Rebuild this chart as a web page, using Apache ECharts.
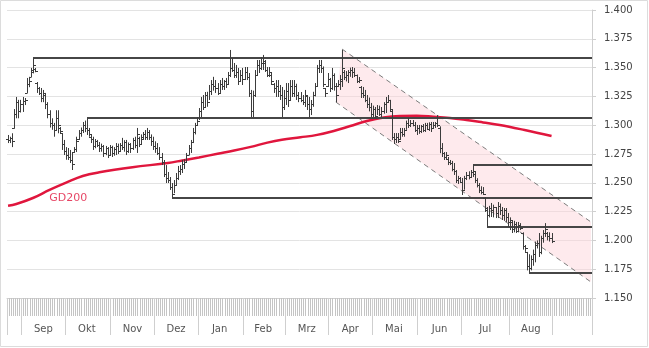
<!DOCTYPE html>
<html>
<head>
<meta charset="utf-8">
<script src="https://cdn.jsdelivr.net/npm/echarts@6/dist/echarts.min.js"></script>
<style>
html,body{margin:0;padding:0;background:#fff;}
#chart{width:649px;height:348px;}
</style>
</head>
<body>
<div id="chart"></div>
<script>
// Month blocks of the daily axis (trading days per month); first and last blocks are partial and unlabeled
const monthLabels = ['', 'Sep', 'Okt', 'Nov', 'Dez', 'Jan', 'Feb', 'Mrz', 'Apr', 'Mai', 'Jun', 'Jul', 'Aug', ''];
const monthDays = [7, 21, 22, 21, 21, 22, 20, 21, 21, 22, 21, 23, 21, 19];

// Y axis ticks
const yMin = 1.15, yMax = 1.40, yStep = 0.025;

// Daily bars: [open, high, low, close]
const ohlc = [
[1.288,1.2915,1.2845,1.287],[1.287,1.290,1.2845,1.289],[1.289,1.293,1.281,1.286],[1.298,1.314,1.297,1.310],
[1.310,1.3245,1.306,1.320],[1.320,1.322,1.306,1.312],[1.312,1.322,1.311,1.318],[1.318,1.3245,1.3115,1.321],
[1.321,1.3236,1.3175,1.322],[1.328,1.341,1.328,1.336],[1.336,1.342,1.333,1.338],[1.342,1.3497,1.3418,1.348],
[1.346,1.358,1.345,1.352],[1.349,1.3497,1.346,1.347],[1.337,1.3375,1.328,1.332],[1.332,1.3332,1.3262,1.328],
[1.328,1.3323,1.320,1.324],[1.324,1.3306,1.320,1.328],[1.326,1.328,1.314,1.318],[1.318,1.320,1.306,1.310],
[1.310,1.313,1.298,1.302],[1.302,1.306,1.296,1.300],[1.300,1.302,1.290,1.296],[1.296,1.313,1.2958,1.306],
[1.306,1.313,1.293,1.300],[1.298,1.2984,1.2932,1.295],[1.293,1.2932,1.2785,1.284],[1.284,1.2872,1.2741,1.278],
[1.278,1.281,1.270,1.274],[1.274,1.2802,1.2698,1.272],[1.272,1.2785,1.2672,1.270],[1.270,1.2759,1.2611,1.266],
[1.277,1.281,1.2759,1.279],[1.279,1.290,1.2767,1.286],[1.288,1.2958,1.2872,1.293],[1.293,1.298,1.290,1.296],
[1.296,1.3028,1.2932,1.300],[1.300,1.304,1.294,1.298],[1.298,1.306,1.2915,1.296],[1.296,1.2976,1.290,1.292],
[1.290,1.2915,1.2845,1.288],[1.288,1.290,1.2785,1.282],[1.282,1.288,1.280,1.286],[1.286,1.2872,1.281,1.283],
[1.283,1.2854,1.2767,1.280],[1.280,1.284,1.277,1.282],[1.282,1.2828,1.2724,1.276],[1.276,1.282,1.274,1.280],
[1.280,1.281,1.2715,1.274],[1.274,1.2828,1.2741,1.281],[1.281,1.2822,1.2724,1.276],[1.276,1.281,1.2735,1.279],
[1.279,1.2845,1.2741,1.282],[1.282,1.284,1.275,1.278],[1.278,1.2845,1.2767,1.283],[1.283,1.289,1.2785,1.281],
[1.281,1.287,1.277,1.285],[1.285,1.2872,1.2741,1.278],[1.278,1.285,1.2759,1.284],[1.284,1.2845,1.2759,1.280],
[1.280,1.289,1.2785,1.287],[1.287,1.290,1.280,1.283],[1.283,1.2976,1.2759,1.292],[1.289,1.290,1.281,1.284],
[1.284,1.292,1.283,1.290],[1.288,1.2941,1.2872,1.292],[1.292,1.2958,1.2872,1.290],[1.290,1.2976,1.2872,1.294],
[1.294,1.2958,1.2872,1.290],[1.290,1.292,1.282,1.286],[1.286,1.290,1.2785,1.282],[1.282,1.286,1.276,1.280],
[1.280,1.2845,1.2741,1.276],[1.276,1.281,1.2698,1.272],[1.272,1.2759,1.2654,1.268],[1.268,1.2698,1.255,1.258],
[1.258,1.2654,1.2498,1.254],[1.254,1.2594,1.2498,1.252],[1.252,1.255,1.2438,1.246],[1.246,1.2498,1.237,1.240],
[1.240,1.2524,1.241,1.248],[1.248,1.2585,1.248,1.254],[1.254,1.2646,1.2524,1.260],[1.260,1.2654,1.2568,1.262],
[1.262,1.2698,1.2585,1.266],[1.266,1.2705,1.262,1.268],[1.268,1.2759,1.268,1.274],[1.274,1.2828,1.2741,1.280],
[1.280,1.2872,1.2759,1.285],[1.285,1.2976,1.2845,1.294],[1.294,1.302,1.292,1.300],[1.300,1.3071,1.300,1.304],
[1.304,1.3149,1.3045,1.312],[1.312,1.3245,1.307,1.320],[1.320,1.3262,1.3132,1.316],[1.316,1.3288,1.3158,1.326],
[1.326,1.329,1.316,1.320],[1.320,1.3349,1.3219,1.330],[1.330,1.3392,1.3262,1.336],[1.336,1.342,1.330,1.334],
[1.334,1.3392,1.328,1.332],[1.332,1.3366,1.3262,1.328],[1.328,1.3392,1.328,1.336],[1.336,1.341,1.3306,1.334],
[1.334,1.3392,1.3306,1.338],[1.338,1.341,1.3323,1.336],[1.336,1.3462,1.3349,1.344],[1.344,1.3653,1.3418,1.350],
[1.350,1.3583,1.3462,1.348],[1.348,1.354,1.341,1.344],[1.344,1.3523,1.341,1.346],[1.346,1.3497,1.3349,1.338],
[1.338,1.3479,1.3375,1.344],[1.344,1.3497,1.3349,1.340],[1.340,1.3505,1.3392,1.346],[1.346,1.3505,1.3392,1.342],
[1.342,1.3453,1.3245,1.328],[1.328,1.3306,1.3071,1.312],[1.312,1.330,1.307,1.326],[1.326,1.3479,1.3245,1.344],
[1.344,1.3566,1.3432,1.352],[1.352,1.3566,1.3453,1.350],[1.350,1.3592,1.3479,1.354],[1.354,1.361,1.3479,1.356],
[1.354,1.3566,1.3462,1.348],[1.348,1.3505,1.3418,1.344],[1.344,1.3505,1.3418,1.346],[1.344,1.3453,1.3349,1.338],
[1.336,1.3366,1.328,1.332],[1.332,1.3392,1.3245,1.334],[1.334,1.3392,1.3245,1.330],[1.330,1.3349,1.3219,1.326],
[1.326,1.3332,1.3071,1.316],[1.316,1.3306,1.3132,1.324],[1.324,1.3366,1.3175,1.330],[1.330,1.3366,1.3158,1.322],
[1.322,1.3392,1.3219,1.334],[1.334,1.3392,1.3245,1.328],[1.328,1.3392,1.3245,1.334],[1.334,1.336,1.3219,1.326],
[1.326,1.3288,1.320,1.324],[1.324,1.3288,1.320,1.322],[1.322,1.3262,1.3175,1.320],[1.320,1.3306,1.3158,1.326],
[1.325,1.3262,1.3132,1.318],[1.318,1.3245,1.3071,1.314],[1.314,1.3219,1.3088,1.318],[1.318,1.329,1.316,1.326],
[1.326,1.3366,1.325,1.334],[1.334,1.3523,1.334,1.350],[1.350,1.3566,1.3453,1.352],[1.352,1.3566,1.3453,1.350],
[1.350,1.351,1.333,1.336],[1.332,1.3323,1.3245,1.328],[1.334,1.3453,1.3332,1.340],[1.340,1.341,1.3288,1.332],
[1.332,1.3497,1.3306,1.344],[1.344,1.345,1.330,1.334],[1.334,1.3366,1.320,1.326],[1.334,1.3392,1.3332,1.336],
[1.336,1.3436,1.3306,1.340],[1.338,1.3653,1.3332,1.350],[1.346,1.3479,1.3392,1.342],[1.342,1.347,1.338,1.344],
[1.344,1.3479,1.3366,1.346],[1.346,1.350,1.342,1.348],[1.348,1.3505,1.341,1.346],[1.346,1.3497,1.3418,1.344],
[1.344,1.344,1.3366,1.338],[1.338,1.3418,1.3366,1.339],[1.333,1.334,1.3236,1.328],[1.328,1.3332,1.3236,1.326],
[1.326,1.3306,1.320,1.322],[1.322,1.3262,1.3149,1.318],[1.318,1.324,1.312,1.316],[1.316,1.3193,1.3071,1.310],
[1.310,1.317,1.307,1.314],[1.314,1.3158,1.3062,1.308],[1.308,1.3175,1.3088,1.314],[1.314,1.317,1.308,1.310],
[1.310,1.3158,1.3071,1.312],[1.312,1.320,1.310,1.318],[1.318,1.3245,1.3106,1.320],[1.320,1.3262,1.3193,1.322],
[1.322,1.322,1.3115,1.314],[1.312,1.3132,1.2872,1.290],[1.290,1.2932,1.2837,1.288],[1.288,1.2932,1.2845,1.290],
[1.290,1.2932,1.2845,1.286],[1.288,1.2976,1.2872,1.294],[1.294,1.2976,1.290,1.292],[1.292,1.2976,1.290,1.296],
[1.296,1.304,1.296,1.302],[1.302,1.3062,1.2976,1.300],[1.300,1.3045,1.2984,1.302],[1.302,1.3045,1.299,1.300],
[1.300,1.3028,1.2941,1.296],[1.296,1.3002,1.2915,1.298],[1.298,1.3002,1.2925,1.295],[1.295,1.3002,1.2932,1.299],
[1.299,1.301,1.294,1.296],[1.296,1.302,1.2941,1.300],[1.300,1.302,1.2958,1.297],[1.297,1.3025,1.295,1.301],
[1.301,1.3028,1.2941,1.298],[1.298,1.3028,1.297,1.300],[1.300,1.3028,1.2976,1.302],[1.302,1.3088,1.2984,1.300],
[1.298,1.299,1.2757,1.280],[1.280,1.2845,1.2724,1.276],[1.276,1.2767,1.2698,1.272],[1.272,1.2767,1.2698,1.274],
[1.271,1.2724,1.2654,1.268],[1.268,1.2698,1.2654,1.267],[1.267,1.269,1.260,1.262],[1.262,1.2672,1.2568,1.260],
[1.260,1.2611,1.2498,1.252],[1.252,1.256,1.249,1.254],[1.254,1.255,1.2498,1.251],[1.251,1.2542,1.2394,1.244],
[1.244,1.256,1.244,1.254],[1.254,1.2594,1.2524,1.257],[1.257,1.260,1.253,1.255],[1.255,1.2611,1.2542,1.259],
[1.259,1.2655,1.255,1.260],[1.258,1.2594,1.2498,1.252],[1.252,1.254,1.246,1.248],[1.248,1.2498,1.2411,1.244],
[1.244,1.247,1.240,1.242],[1.242,1.2463,1.2394,1.240],[1.237,1.2376,1.2247,1.228],[1.226,1.229,1.2116,1.222],
[1.222,1.230,1.220,1.228],[1.228,1.2325,1.2203,1.226],[1.226,1.231,1.220,1.229],[1.229,1.229,1.2194,1.224],
[1.224,1.2333,1.2194,1.230],[1.230,1.232,1.222,1.226],[1.226,1.229,1.2177,1.222],[1.222,1.2281,1.217,1.226],
[1.226,1.2281,1.216,1.220],[1.220,1.2238,1.2116,1.216],[1.216,1.220,1.209,1.218],[1.216,1.2177,1.2064,1.210],
[1.210,1.217,1.207,1.214],[1.214,1.216,1.2064,1.208],[1.208,1.216,1.207,1.213],[1.213,1.215,1.209,1.211],
[1.206,1.207,1.192,1.195],[1.195,1.196,1.190,1.193],[1.190,1.190,1.174,1.178],[1.178,1.188,1.172,1.176],
[1.176,1.187,1.174,1.184],[1.184,1.192,1.178,1.188],[1.188,1.199,1.181,1.196],[1.196,1.200,1.193,1.198],
[1.198,1.2064,1.1856,1.190],[1.190,1.204,1.188,1.202],[1.202,1.209,1.198,1.206],[1.206,1.215,1.203,1.210],
[1.206,1.2073,1.200,1.204],[1.204,1.207,1.199,1.202],[1.202,1.2064,1.1977,1.1995]
];

// 200-day moving average: [day index, value]
const gd200 = [
[0,1.2301],[4,1.2316],[12,1.2368],[20,1.2438],[28,1.2501],[36,1.2559],[44,1.2591],[60,1.2635],
[77,1.2672],[84,1.2694],[92,1.2720],[101,1.2752],[109,1.2780],[117,1.2812],[125,1.2849],[132,1.2874],
[141,1.2895],[149,1.2916],[157,1.2950],[165,1.2993],[173,1.3037],[181,1.3067],[189,1.3080],[197,1.3082],
[205,1.3074],[213,1.3063],[221,1.3045],[229,1.3024],[237,1.3002],[249,1.2958],[262,1.2906]
];
const gdLabel = { text: 'GD200', day: 29, value: 1.2368 };

// Support / resistance levels: [start day index, level]
const levels = [[12,1.358],[38,1.306],[79,1.237],[224,1.2655],[231,1.2116],[251,1.172]];

// Downtrend channel: [day index, value] for the upper and lower edge
const channelUpper = [[161,1.3661],[281,1.2160]];
const channelLower = [[158,1.3201],[281,1.1639]];

// ---- category axis built from the month blocks ----
const days = [];
const monthStart = new Set();
const monthMid = new Map();
let cursor = 0;
monthDays.forEach((n, m) => {
  monthStart.add(cursor);
  if (monthLabels[m]) monthMid.set(cursor + Math.floor((n - 1) / 2), monthLabels[m]);
  for (let d = 0; d < n; d++) days.push('m' + m + 'd' + d);
  cursor += n;
});

const INK = '#3c3c3c';
const RED = '#e0163d';
const FONT = 'DejaVu Sans';

function renderBar(params, api) {
  const x = Math.round(api.coord([api.value(0), 0])[0]) + 0.5;
  const yo = Math.round(api.coord([api.value(0), api.value(1)])[1]) + 0.5;
  const yh = api.coord([api.value(0), api.value(2)])[1];
  const yl = api.coord([api.value(0), api.value(3)])[1];
  const yc = Math.round(api.coord([api.value(0), api.value(4)])[1]) + 0.5;
  const st = { stroke: INK, lineWidth: 1 };
  return { type: 'group', children: [
    { type: 'line', shape: { x1: x, y1: yh, x2: x, y2: yl }, style: st },
    { type: 'line', shape: { x1: x - 2.5, y1: yo, x2: x, y2: yo }, style: st },
    { type: 'line', shape: { x1: x, y1: yc, x2: x + 2.5, y2: yc }, style: st }
  ]};
}

function renderLevel(params, api) {
  const p = api.coord([api.value(0), api.value(1)]);
  const right = params.coordSys.x + params.coordSys.width;
  const y = Math.round(p[1]);
  return { type: 'line', shape: { x1: Math.round(p[0]), y1: y, x2: right, y2: y },
    style: { stroke: '#464646', lineWidth: 2 } };
}

function renderChannel(params, api) {
  const u0 = api.coord(channelUpper[0]), u1 = api.coord(channelUpper[1]);
  const l0 = api.coord(channelLower[0]), l1 = api.coord(channelLower[1]);
  const dash = { stroke: '#7c7c7c', lineWidth: 1, lineDash: [5, 4] };
  return { type: 'group', children: [
    { type: 'polygon', shape: { points: [u0, u1, l1, l0] },
      style: { fill: 'rgba(252,208,216,0.45)', stroke: null } },
    { type: 'line', shape: { x1: u0[0], y1: u0[1], x2: u1[0], y2: u1[1] }, style: dash },
    { type: 'line', shape: { x1: l0[0], y1: l0[1], x2: l1[0], y2: l1[1] }, style: dash }
  ]};
}

const chart = echarts.init(document.getElementById('chart'), null, { renderer: 'canvas' });
chart.setOption({
  animation: false,
  backgroundColor: '#fff',
  grid: { left: 7, right: 57, top: 10, bottom: 50 },
  xAxis: [
    {
      type: 'category', data: days, boundaryGap: true,
      axisLine: { show: true, lineStyle: { color: '#cfcfcf' } },
      axisTick: { show: true, interval: 0, length: 18, lineStyle: { color: '#c4c4c4' } },
      axisLabel: { show: false }, splitLine: { show: false }
    },
    {
      type: 'category', data: days, boundaryGap: true, position: 'bottom',
      axisLine: { show: false },
      axisTick: { show: true, length: 37, interval: (i) => monthStart.has(i), lineStyle: { color: '#cfcfcf' } },
      axisLabel: {
        show: true, margin: 26, interval: (i) => monthMid.has(i),
        formatter: (v, i) => monthMid.get(i) || '',
        color: '#555', fontFamily: FONT, fontSize: 10
      },
      splitLine: { show: false }
    }
  ],
  yAxis: {
    type: 'value', position: 'right', min: yMin, max: yMax, interval: yStep,
    axisLine: { show: true, lineStyle: { color: '#cfcfcf' } },
    axisTick: { show: true, length: 4, lineStyle: { color: '#cfcfcf' } },
    axisLabel: { margin: 12, color: '#444', fontFamily: FONT, fontSize: 10,
      formatter: (v) => v.toFixed(3) },
    splitLine: { show: true, lineStyle: { color: '#e3e3e3' } }
  },
  series: [
    { type: 'custom', renderItem: renderChannel, data: [0], silent: true, z: 1 },
    { type: 'line', data: gd200, smooth: 0.4, showSymbol: false, symbol: 'none', silent: true,
      lineStyle: { color: RED, width: 2.5 }, z: 2 },
    { type: 'custom', renderItem: renderLevel, data: levels, silent: true, z: 3 },
    { type: 'custom', renderItem: renderBar,
      data: ohlc.map((r, i) => [i, r[0], r[1], r[2], r[3]]),
      encode: { x: 0, y: [1, 2, 3, 4] }, silent: true, z: 4 },
    { type: 'scatter', data: [[gdLabel.day, gdLabel.value]], symbolSize: 0, silent: true,
      label: { show: true, position: 'inside', formatter: gdLabel.text, color: RED,
        fontFamily: FONT, fontSize: 11 }, z: 5 }
  ],
  graphic: [
    { type: 'rect', shape: { x: 0.5, y: 0.5, width: 647, height: 346 },
      style: { fill: null, stroke: '#dcdcdc', lineWidth: 1 }, silent: true }
  ]
});
</script>
</body>
</html>
